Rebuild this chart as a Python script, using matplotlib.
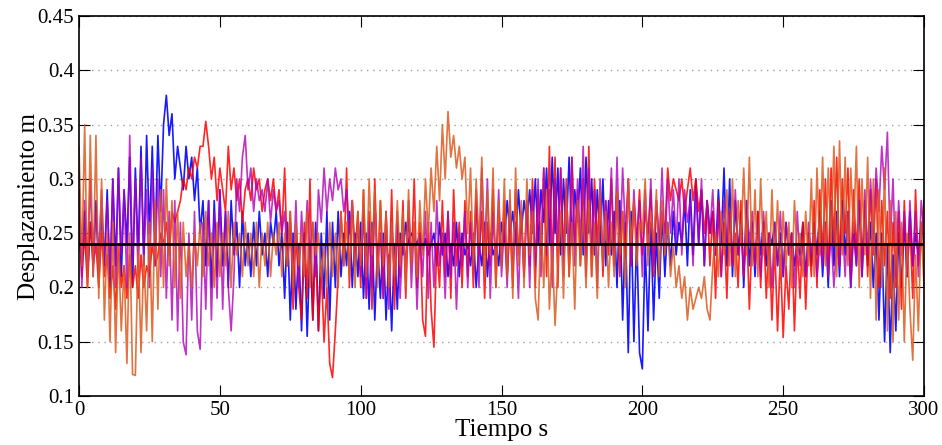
import matplotlib.pyplot as plt
import numpy as np

plt.rcParams['font.family'] = ['Liberation Serif', 'DejaVu Serif']

# time axis, one sample per second
tiempo = list(range(0, 301))

# displacement series (m)
azul = [0.25, 0.22, 0.27, 0.21, 0.26, 0.23, 0.28, 0.21, 0.27, 0.22,
        0.29, 0.20, 0.30, 0.22, 0.31, 0.21, 0.29, 0.24, 0.32, 0.20,
        0.31, 0.23, 0.33, 0.22, 0.34, 0.25, 0.33, 0.24, 0.34, 0.27,
        0.35, 0.377, 0.34, 0.36, 0.30, 0.33, 0.31, 0.29, 0.33, 0.30,
        0.32, 0.28, 0.31, 0.25, 0.28, 0.22, 0.28, 0.20, 0.28, 0.21,
        0.29, 0.22, 0.27, 0.20, 0.28, 0.23, 0.26, 0.20, 0.27, 0.22,
        0.25, 0.21, 0.26, 0.22, 0.27, 0.23, 0.25, 0.21, 0.26, 0.24,
        0.27, 0.22, 0.25, 0.19, 0.26, 0.17, 0.25, 0.18, 0.24, 0.16,
        0.25, 0.155, 0.24, 0.17, 0.26, 0.16, 0.25, 0.19, 0.27, 0.17,
        0.26, 0.20, 0.27, 0.21, 0.25, 0.22, 0.27, 0.20, 0.25, 0.21,
        0.26, 0.19, 0.25, 0.18, 0.26, 0.17, 0.24, 0.19, 0.25, 0.17,
        0.23, 0.16, 0.24, 0.18, 0.25, 0.23, 0.26, 0.24, 0.25, 0.245,
        0.24, 0.25, 0.235, 0.245, 0.23, 0.24, 0.25, 0.22, 0.26, 0.23,
        0.25, 0.21, 0.24, 0.22, 0.26, 0.21, 0.25, 0.23, 0.24, 0.22,
        0.25, 0.20, 0.24, 0.22, 0.26, 0.21, 0.25, 0.23, 0.24, 0.22,
        0.26, 0.24, 0.28, 0.25, 0.27, 0.24, 0.29, 0.25, 0.28, 0.26,
        0.29, 0.25, 0.30, 0.24, 0.29, 0.26, 0.31, 0.24, 0.32, 0.25,
        0.31, 0.23, 0.30, 0.25, 0.32, 0.24, 0.29, 0.26, 0.31, 0.23,
        0.32, 0.25, 0.30, 0.23, 0.29, 0.24, 0.30, 0.22, 0.28, 0.23,
        0.27, 0.20, 0.28, 0.17, 0.26, 0.14, 0.27, 0.15, 0.25, 0.14,
        0.125, 0.24, 0.16, 0.26, 0.17, 0.25, 0.19, 0.27, 0.21, 0.26,
        0.22, 0.27, 0.23, 0.26, 0.24, 0.28, 0.22, 0.29, 0.23, 0.30,
        0.24, 0.29, 0.22, 0.28, 0.25, 0.27, 0.23, 0.29, 0.24, 0.31,
        0.22, 0.30, 0.21, 0.28, 0.23, 0.27, 0.20, 0.28, 0.22, 0.26,
        0.21, 0.27, 0.23, 0.26, 0.22, 0.25, 0.24, 0.26, 0.22, 0.25,
        0.21, 0.26, 0.23, 0.25, 0.22, 0.24, 0.23, 0.26, 0.21, 0.25,
        0.22, 0.26, 0.23, 0.27, 0.21, 0.26, 0.20, 0.28, 0.22, 0.27,
        0.21, 0.28, 0.23, 0.27, 0.20, 0.26, 0.22, 0.28, 0.21, 0.27,
        0.22, 0.26, 0.20, 0.25, 0.17, 0.25, 0.15, 0.24, 0.14, 0.23,
        0.16, 0.25, 0.20, 0.26, 0.21, 0.27, 0.22, 0.25, 0.23, 0.26, 0.24]

rojo = [0.27, 0.21, 0.25, 0.20, 0.26, 0.22, 0.24, 0.20, 0.25, 0.21,
        0.23, 0.19, 0.22, 0.18, 0.24, 0.20, 0.22, 0.19, 0.23, 0.20,
        0.22, 0.19, 0.23, 0.20, 0.22, 0.21, 0.24, 0.22, 0.23, 0.25,
        0.24, 0.26, 0.23, 0.27, 0.26, 0.27, 0.28, 0.30, 0.29, 0.31,
        0.30, 0.32, 0.31, 0.33, 0.33, 0.353, 0.33, 0.30, 0.32, 0.28,
        0.31, 0.29, 0.27, 0.33, 0.29, 0.31, 0.28, 0.30, 0.26, 0.29,
        0.30, 0.28, 0.31, 0.29, 0.30, 0.27, 0.29, 0.30, 0.28, 0.30,
        0.27, 0.29, 0.25, 0.31, 0.22, 0.27, 0.18, 0.25, 0.20, 0.17,
        0.26, 0.19, 0.30, 0.17, 0.24, 0.16, 0.22, 0.15, 0.20, 0.13,
        0.117, 0.16, 0.21, 0.27, 0.22, 0.31, 0.20, 0.28, 0.23, 0.27,
        0.20, 0.29, 0.19, 0.27, 0.18, 0.30, 0.21, 0.28, 0.19, 0.27,
        0.20, 0.29, 0.18, 0.26, 0.21, 0.28, 0.19, 0.27, 0.22, 0.30,
        0.20, 0.26, 0.17, 0.155, 0.26, 0.18, 0.145, 0.24, 0.20, 0.28,
        0.21, 0.27, 0.19, 0.29, 0.22, 0.26, 0.20, 0.28, 0.21, 0.27,
        0.20, 0.28, 0.23, 0.27, 0.19, 0.26, 0.22, 0.29, 0.20, 0.27,
        0.22, 0.28, 0.21, 0.26, 0.20, 0.29, 0.23, 0.27, 0.21, 0.28,
        0.22, 0.30, 0.20, 0.29, 0.23, 0.31, 0.21, 0.33, 0.22, 0.32,
        0.20, 0.31, 0.23, 0.30, 0.21, 0.32, 0.24, 0.29, 0.22, 0.30,
        0.23, 0.33, 0.21, 0.30, 0.24, 0.29, 0.21, 0.28, 0.23, 0.30,
        0.22, 0.29, 0.21, 0.27, 0.23, 0.30, 0.22, 0.28, 0.24, 0.29,
        0.23, 0.27, 0.25, 0.29, 0.21, 0.28, 0.24, 0.27, 0.25, 0.31,
        0.28, 0.30, 0.29, 0.28, 0.30, 0.27, 0.29, 0.31, 0.28, 0.30,
        0.27, 0.29, 0.25, 0.28, 0.22, 0.27, 0.19, 0.28, 0.21, 0.26,
        0.19, 0.27, 0.22, 0.25, 0.20, 0.28, 0.21, 0.26, 0.18, 0.25,
        0.22, 0.27, 0.20, 0.26, 0.19, 0.25, 0.17, 0.24, 0.16, 0.23,
        0.154, 0.22, 0.18, 0.25, 0.16, 0.24, 0.19, 0.26, 0.18, 0.25,
        0.21, 0.28, 0.20, 0.29, 0.23, 0.30, 0.21, 0.31, 0.24, 0.32,
        0.22, 0.30, 0.25, 0.31, 0.21, 0.29, 0.23, 0.30, 0.22, 0.28,
        0.21, 0.29, 0.23, 0.30, 0.20, 0.28, 0.22, 0.27, 0.19, 0.26,
        0.20, 0.27, 0.18, 0.28, 0.21, 0.26, 0.19, 0.29, 0.22, 0.24, 0.28]

magenta = [0.29, 0.20, 0.28, 0.22, 0.30, 0.21, 0.27, 0.23, 0.29, 0.22,
           0.28, 0.21, 0.30, 0.20, 0.31, 0.23, 0.29, 0.20, 0.34, 0.22,
           0.30, 0.21, 0.32, 0.23, 0.29, 0.20, 0.31, 0.22, 0.30, 0.21,
           0.29, 0.19, 0.27, 0.17, 0.28, 0.16, 0.26, 0.15, 0.138, 0.25,
           0.17, 0.27, 0.16, 0.143, 0.26, 0.18, 0.28, 0.17, 0.27, 0.19,
           0.29, 0.18, 0.27, 0.20, 0.16, 0.21, 0.30, 0.27, 0.32, 0.34,
           0.29, 0.31, 0.27, 0.30, 0.28, 0.29, 0.27, 0.30, 0.26, 0.29,
           0.27, 0.28, 0.25, 0.27, 0.22, 0.26, 0.21, 0.28, 0.20, 0.27,
           0.22, 0.28, 0.23, 0.26, 0.21, 0.29, 0.26, 0.31, 0.27, 0.30,
           0.28, 0.31, 0.29, 0.30, 0.27, 0.29, 0.25, 0.28, 0.22, 0.26,
           0.21, 0.27, 0.19, 0.26, 0.20, 0.28, 0.22, 0.25, 0.19, 0.27,
           0.18, 0.26, 0.21, 0.27, 0.19, 0.25, 0.22, 0.28, 0.20, 0.26,
           0.18, 0.25, 0.21, 0.27, 0.19, 0.26, 0.20, 0.28, 0.22, 0.25,
           0.19, 0.27, 0.21, 0.26, 0.18, 0.25, 0.22, 0.27, 0.20, 0.26,
           0.22, 0.29, 0.20, 0.31, 0.23, 0.30, 0.19, 0.27, 0.22, 0.29,
           0.21, 0.26, 0.20, 0.28, 0.22, 0.26, 0.19, 0.27, 0.21, 0.28,
           0.20, 0.29, 0.22, 0.30, 0.21, 0.31, 0.23, 0.29, 0.20, 0.30,
           0.24, 0.31, 0.21, 0.29, 0.23, 0.32, 0.22, 0.30, 0.24, 0.33,
           0.21, 0.31, 0.23, 0.29, 0.20, 0.30, 0.22, 0.28, 0.24, 0.31,
           0.22, 0.32, 0.23, 0.31, 0.25, 0.30, 0.22, 0.29, 0.24, 0.28,
           0.21, 0.29, 0.23, 0.30, 0.22, 0.28, 0.24, 0.31, 0.23, 0.30,
           0.25, 0.29, 0.24, 0.30, 0.23, 0.29, 0.26, 0.28, 0.22, 0.29,
           0.24, 0.30, 0.22, 0.28, 0.25, 0.29, 0.23, 0.27, 0.21, 0.28,
           0.24, 0.27, 0.22, 0.29, 0.23, 0.26, 0.21, 0.28, 0.24, 0.27,
           0.22, 0.26, 0.21, 0.27, 0.23, 0.25, 0.20, 0.26, 0.22, 0.27,
           0.21, 0.26, 0.23, 0.25, 0.20, 0.27, 0.22, 0.24, 0.21, 0.26,
           0.23, 0.25, 0.21, 0.24, 0.22, 0.26, 0.21, 0.25, 0.20, 0.24,
           0.22, 0.26, 0.21, 0.27, 0.20, 0.25, 0.22, 0.28, 0.21, 0.29,
           0.23, 0.30, 0.25, 0.31, 0.27, 0.33, 0.29, 0.343, 0.24, 0.30,
           0.21, 0.28, 0.23, 0.27, 0.21, 0.28, 0.22, 0.27, 0.21, 0.28, 0.25]

naranja = [0.33, 0.22, 0.35, 0.20, 0.34, 0.21, 0.34, 0.19, 0.30, 0.17,
           0.25, 0.15, 0.26, 0.14, 0.24, 0.16, 0.22, 0.13, 0.25, 0.12,
           0.119, 0.24, 0.14, 0.23, 0.16, 0.26, 0.15, 0.28, 0.18, 0.29,
           0.20, 0.30, 0.22, 0.28, 0.20, 0.27, 0.19, 0.26, 0.21, 0.24,
           0.20, 0.25, 0.22, 0.26, 0.21, 0.27, 0.22, 0.25, 0.20, 0.26,
           0.21, 0.25, 0.22, 0.27, 0.20, 0.26, 0.23, 0.25, 0.21, 0.26,
           0.22, 0.25, 0.21, 0.26, 0.20, 0.25, 0.22, 0.26, 0.21, 0.25,
           0.23, 0.26, 0.21, 0.25, 0.22, 0.27, 0.20, 0.26, 0.22, 0.25,
           0.21, 0.27, 0.20, 0.26, 0.23, 0.25, 0.21, 0.24, 0.20, 0.26,
           0.21, 0.25, 0.20, 0.27, 0.22, 0.26, 0.21, 0.28, 0.20, 0.27,
           0.22, 0.29, 0.21, 0.30, 0.23, 0.29, 0.20, 0.28, 0.22, 0.27,
           0.20, 0.26, 0.21, 0.28, 0.22, 0.27, 0.20, 0.29, 0.22, 0.26,
           0.21, 0.28, 0.23, 0.30, 0.25, 0.31, 0.27, 0.33, 0.28, 0.35,
           0.30, 0.362, 0.32, 0.34, 0.31, 0.33, 0.30, 0.32, 0.25, 0.31,
           0.22, 0.30, 0.24, 0.32, 0.21, 0.29, 0.23, 0.31, 0.20, 0.28,
           0.22, 0.30, 0.21, 0.29, 0.19, 0.31, 0.22, 0.28, 0.20, 0.30,
           0.23, 0.27, 0.19, 0.17, 0.26, 0.20, 0.29, 0.18, 0.24, 0.165,
           0.22, 0.27, 0.19, 0.29, 0.21, 0.26, 0.18, 0.28, 0.22, 0.27,
           0.20, 0.28, 0.21, 0.26, 0.19, 0.29, 0.22, 0.27, 0.20, 0.26,
           0.21, 0.29, 0.23, 0.27, 0.20, 0.30, 0.24, 0.28, 0.22, 0.26,
           0.25, 0.30, 0.22, 0.27, 0.24, 0.29, 0.21, 0.28, 0.23, 0.26,
           0.21, 0.24, 0.20, 0.22, 0.19, 0.21, 0.17, 0.20, 0.18, 0.19,
           0.20, 0.19, 0.21, 0.18, 0.17, 0.22, 0.25, 0.21, 0.27, 0.23,
           0.29, 0.22, 0.30, 0.21, 0.28, 0.24, 0.31, 0.23, 0.32, 0.22,
           0.29, 0.21, 0.30, 0.23, 0.27, 0.20, 0.29, 0.22, 0.28, 0.21,
           0.27, 0.22, 0.26, 0.20, 0.28, 0.23, 0.25, 0.21, 0.27, 0.22,
           0.30, 0.21, 0.31, 0.23, 0.32, 0.22, 0.31, 0.24, 0.33, 0.21,
           0.335, 0.23, 0.32, 0.22, 0.31, 0.25, 0.33, 0.20, 0.30, 0.23,
           0.32, 0.19, 0.30, 0.17, 0.29, 0.20, 0.31, 0.16, 0.28, 0.15,
           0.27, 0.17, 0.26, 0.15, 0.25, 0.18, 0.133, 0.23, 0.16, 0.26, 0.20]

referencia = 0.24

fig = plt.figure(figsize=(9.42, 4.45), dpi=100)
ax = fig.add_axes([0.0839, 0.110, 0.897, 0.854])

ax.plot(tiempo, azul, color='#0000ff', lw=1.2, alpha=0.9)
ax.plot(tiempo, rojo, color='#ff0000', lw=1.2, alpha=0.85)
ax.plot(tiempo, magenta, color='#b000b8', lw=1.2, alpha=0.8)
ax.plot(tiempo, naranja, color='#dd5a1e', lw=1.2, alpha=0.85)
ax.axhline(referencia, color='black', lw=2)

ax.set_xlim(0, 300)
ax.set_ylim(0.1, 0.45)
ax.set_xticks(np.arange(0, 301, 50))
ax.set_yticks([0.1, 0.15, 0.2, 0.25, 0.3, 0.35, 0.4, 0.45])
ax.set_yticklabels(['0.1', '0.15', '0.2', '0.25', '0.3', '0.35', '0.4', '0.45'])
ax.yaxis.grid(True, linestyle=(0, (1, 3.5)), color='#a0a0a0', lw=1.0)
ax.tick_params(direction='in', top=True, right=True, length=8, labelsize=15)
for s in ax.spines.values():
    s.set_linewidth(1.2)

ax.set_xlabel('Tiempo s', fontsize=18, labelpad=-1)
ax.set_ylabel('Desplazamiento m', fontsize=18, labelpad=-2)

fig.savefig('out.png', dpi=100)
